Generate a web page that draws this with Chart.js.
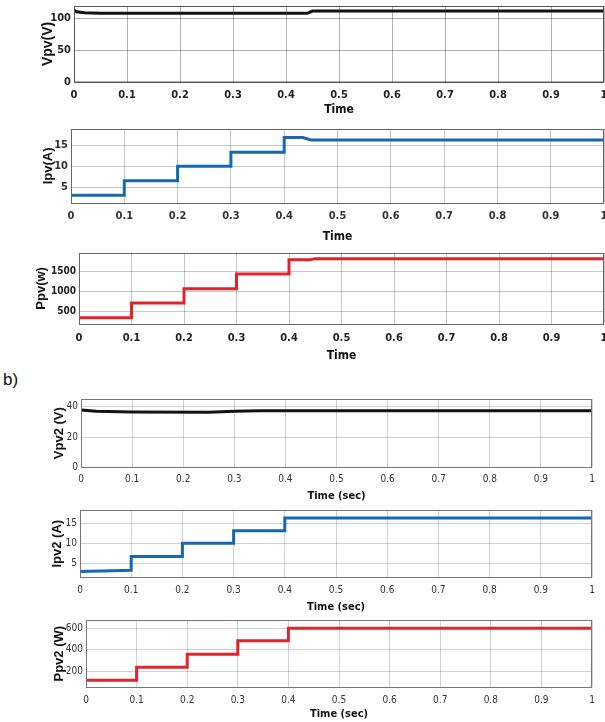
<!DOCTYPE html>
<html>
<head>
<meta charset="utf-8">
<script src="https://cdn.jsdelivr.net/npm/chart.js@4.4.1/dist/chart.umd.min.js"></script>
<style>
  html, body { margin: 0; padding: 0; background: #fff; }
  #page { position: relative; width: 605px; height: 722px; overflow: hidden; }
  .panel { position: absolute; left: 0; width: 605px; }
  .panel canvas { display: block; }
  #tag { position: absolute; left: 3px; top: 370px; font: 17px 'Liberation Sans', Arial, sans-serif; color: #111; }
</style>
</head>
<body>
<div id="page">
  <div class="panel" id="p1"><canvas></canvas></div>
  <div class="panel" id="p2"><canvas></canvas></div>
  <div class="panel" id="p3"><canvas></canvas></div>
  <div id="tag">b)</div>
  <div class="panel" id="p4"><canvas></canvas></div>
  <div class="panel" id="p5"><canvas></canvas></div>
  <div class="panel" id="p6"><canvas></canvas></div>
</div>
<script>
'use strict';

// ---------------------------------------------------------------- data
const timeTicks = [0, 0.1, 0.2, 0.3, 0.4, 0.5, 0.6, 0.7, 0.8, 0.9, 1];

// a) PV array
const vpvTime  = [0, 0.005, 0.02, 0.05, 0.44, 0.45, 1];
const vpvVolts = [113, 111, 109.5, 108.5, 108.5, 112, 112];
const vpvTicks = [0, 50, 100];

const ipvTime = [0, 0.1, 0.1, 0.2, 0.2, 0.3, 0.3, 0.4, 0.4, 0.435, 0.45, 1];
const ipvAmps = [3.2, 3.2, 6.6, 6.6, 10, 10, 13.3, 13.3, 16.8, 16.8, 16.2, 16.2];
const ipvTicks = [5, 10, 15];

const ppvTime  = [0, 0.1, 0.1, 0.2, 0.2, 0.3, 0.3, 0.4, 0.4, 0.44, 0.45, 1];
const ppvWatts = [350, 350, 720, 720, 1070, 1070, 1440, 1440, 1790, 1790, 1820, 1820];
const ppvTicks = [500, 1000, 1500];

// b) second PV array
const vpv2Time  = [0, 0.03, 0.1, 0.25, 0.3, 0.35, 1];
const vpv2Volts = [37.8, 36.9, 36.4, 36.3, 36.9, 37.3, 37.3];
const vpv2Ticks = [0, 20, 40];

const ipv2Time = [0, 0.1, 0.1, 0.2, 0.2, 0.3, 0.3, 0.4, 0.4, 1];
const ipv2Amps = [3.0, 3.3, 6.7, 6.7, 10, 10, 13.1, 13.1, 16.3, 16.3];
const ipv2Ticks = [5, 10, 15];

const ppv2Time  = [0, 0.1, 0.1, 0.2, 0.2, 0.3, 0.3, 0.4, 0.4, 1];
const ppv2Watts = [120, 120, 240, 240, 360, 360, 485, 485, 600, 600];
const ppv2Ticks = [200, 400, 600];

// ------------------------------------------------------------- styling
// 'condensed' rides along in the weight slot so the canvas font shorthand
// picks the narrow DejaVu face.
const NARROW = "'DejaVu Sans', sans-serif";
const BLACK = '#111111';
const BLUE = '#1668b0';
const RED = '#e1232b';

// Box round the plot area (Chart.js only draws the left/bottom border).
const boxPlugin = {
  id: 'box',
  afterDatasetsDraw: function (chart, args, opts) {
    const a = chart.chartArea;
    const ctx = chart.ctx;
    ctx.save();
    ctx.strokeStyle = opts.color || '#666';
    ctx.lineWidth = 1;
    ctx.strokeRect(Math.round(a.left) + 0.5, Math.round(a.top) + 0.5,
      Math.round(a.right - a.left) - 1, Math.round(a.bottom - a.top));
    ctx.restore();
  },
};

function points(xs, ys) {
  return xs.map(function (x, i) { return { x: x, y: ys[i] }; });
}

const PAD_TOP = 4;

// p: plot box (left/right/top/bottom in page pixels) + label positions.
function panel(id, p) {
  const host = document.getElementById(id);
  const canvas = host.querySelector('canvas');
  const lh = p.xTitleSize * 1.2;
  const xAxisH = (p.xTitleY - p.bottom) + lh / 2 + 2;
  const h = Math.round(PAD_TOP + (p.bottom - p.top) + xAxisH);
  host.style.top = (p.top - PAD_TOP) + 'px';
  canvas.width = 605;
  canvas.height = h;

  return new Chart(canvas.getContext('2d'), {
    type: 'line',
    data: {
      datasets: [{
        data: points(p.xs, p.ys),
        borderColor: p.color,
        borderWidth: 3,
        borderJoinStyle: 'miter',
        pointRadius: 0,
        tension: 0,
        fill: false,
      }],
    },
    plugins: [boxPlugin],
    options: {
      responsive: false,
      animation: false,
      events: [],
      layout: { padding: { left: 0, right: 605 - p.right, top: PAD_TOP, bottom: 0 } },
      plugins: {
        legend: { display: false },
        tooltip: { enabled: false },
        box: { color: p.boxColor },
      },
      scales: {
        x: {
          type: 'linear',
          min: 0,
          max: 1,
          afterBuildTicks: function (s) { s.ticks = timeTicks.map(function (v) { return { value: v }; }); },
          afterFit: function (s) { s.height = xAxisH; s.paddingLeft = 0; s.paddingRight = 0; },
          ticks: {
            autoSkip: false,
            maxRotation: 0,
            padding: p.xTickY - p.bottom - p.tickSize * 0.6,
            color: p.tickColor,
            font: { family: NARROW, size: p.tickSize, weight: p.tickWeight + ' condensed' },
            callback: function (v) { return String(v); },
          },
          grid: { color: p.gridColor, drawTicks: false },
          border: { display: false },
          title: {
            display: true,
            text: p.xTitle,
            color: '#111',
            font: { family: NARROW, size: p.xTitleSize, weight: 'bold condensed' },
            padding: { top: 0, bottom: 2 },
          },
        },
        y: {
          min: p.yMin,
          max: p.yMax,
          afterBuildTicks: function (s) { s.ticks = p.yTicks.map(function (v) { return { value: v }; }); },
          afterFit: function (s) { s.width = p.left; s.paddingTop = 0; s.paddingBottom = 0; },
          ticks: {
            padding: 3,
            color: p.tickColor,
            font: { family: NARROW, size: p.yTickSize || p.tickSize, weight: p.tickWeight + ' condensed' },
            callback: function (v) { return String(v); },
          },
          grid: { color: p.gridColor, drawTicks: false },
          border: { display: false },
          title: {
            display: true,
            text: p.yTitle,
            color: '#111',
            font: { family: "'Liberation Sans', Arial, sans-serif", size: p.yTitleSize, weight: 'bold' },
            padding: { top: p.yTitleX - p.yTitleSize * 0.6, bottom: 0 },
          },
        },
      },
    },
  });
}

// a) -------------------------------------------------------------------
panel('p1', {
  xs: vpvTime, ys: vpvVolts, color: BLACK,
  yMin: 0, yMax: 120, yTicks: vpvTicks,
  left: 74, right: 604, top: 6, bottom: 82,
  xTickY: 95, xTitleY: 110, yTitleX: 48,
  xTitle: 'Time', yTitle: 'Vpv(V)',
  tickSize: 11, tickWeight: 'bold', tickColor: '#222', xTitleSize: 12, yTitleSize: 14,
  gridColor: 'rgba(0,0,0,0.3)', boxColor: '#555',
});

panel('p2', {
  xs: ipvTime, ys: ipvAmps, color: BLUE,
  yMin: 1.4, yMax: 18.8, yTicks: ipvTicks,
  left: 71, right: 604, top: 129, bottom: 203,
  xTickY: 216, xTitleY: 237, yTitleX: 48,
  xTitle: 'Time', yTitle: 'Ipv(A)',
  tickSize: 11, tickWeight: 'bold', tickColor: '#333', xTitleSize: 12, yTitleSize: 13,
  gridColor: 'rgba(0,0,0,0.22)', boxColor: '#666',
});

panel('p3', {
  xs: ppvTime, ys: ppvWatts, color: RED,
  yMin: 200, yMax: 1960, yTicks: ppvTicks,
  left: 79, right: 604, top: 253, bottom: 324,
  xTickY: 338, xTitleY: 356, yTitleX: 41,
  xTitle: 'Time', yTitle: 'Ppv(w)',
  tickSize: 11, yTickSize: 10, tickWeight: 'bold', tickColor: '#222', xTitleSize: 12, yTitleSize: 13,
  gridColor: 'rgba(0,0,0,0.22)', boxColor: '#666',
});

// b) -------------------------------------------------------------------
panel('p4', {
  xs: vpv2Time, ys: vpv2Volts, color: BLACK,
  yMin: 0, yMax: 45, yTicks: vpv2Ticks,
  left: 81, right: 592, top: 399, bottom: 467,
  xTickY: 479, xTitleY: 496, yTitleX: 59,
  xTitle: 'Time (sec)', yTitle: 'Vpv2 (V)',
  tickSize: 10, tickWeight: 'normal', tickColor: '#333', xTitleSize: 11, yTitleSize: 13,
  gridColor: 'rgba(0,0,0,0.18)', boxColor: '#777',
});

panel('p5', {
  xs: ipv2Time, ys: ipv2Amps, color: BLUE,
  yMin: 1.5, yMax: 18.3, yTicks: ipv2Ticks,
  left: 80, right: 592, top: 510, bottom: 577,
  xTickY: 590, xTitleY: 607, yTitleX: 57,
  xTitle: 'Time (sec)', yTitle: 'Ipv2 (A)',
  tickSize: 10, tickWeight: 'normal', tickColor: '#333', xTitleSize: 11, yTitleSize: 13,
  gridColor: 'rgba(0,0,0,0.18)', boxColor: '#777',
});

panel('p6', {
  xs: ppv2Time, ys: ppv2Watts, color: RED,
  yMin: 55, yMax: 675, yTicks: ppv2Ticks,
  left: 86, right: 592, top: 620, bottom: 687,
  xTickY: 700, xTitleY: 714, yTitleX: 59,
  xTitle: 'Time (sec)', yTitle: 'Ppv2 (W)',
  tickSize: 10, tickWeight: 'normal', tickColor: '#333', xTitleSize: 11, yTitleSize: 13,
  gridColor: 'rgba(0,0,0,0.18)', boxColor: '#777',
});
</script>
</body>
</html>
